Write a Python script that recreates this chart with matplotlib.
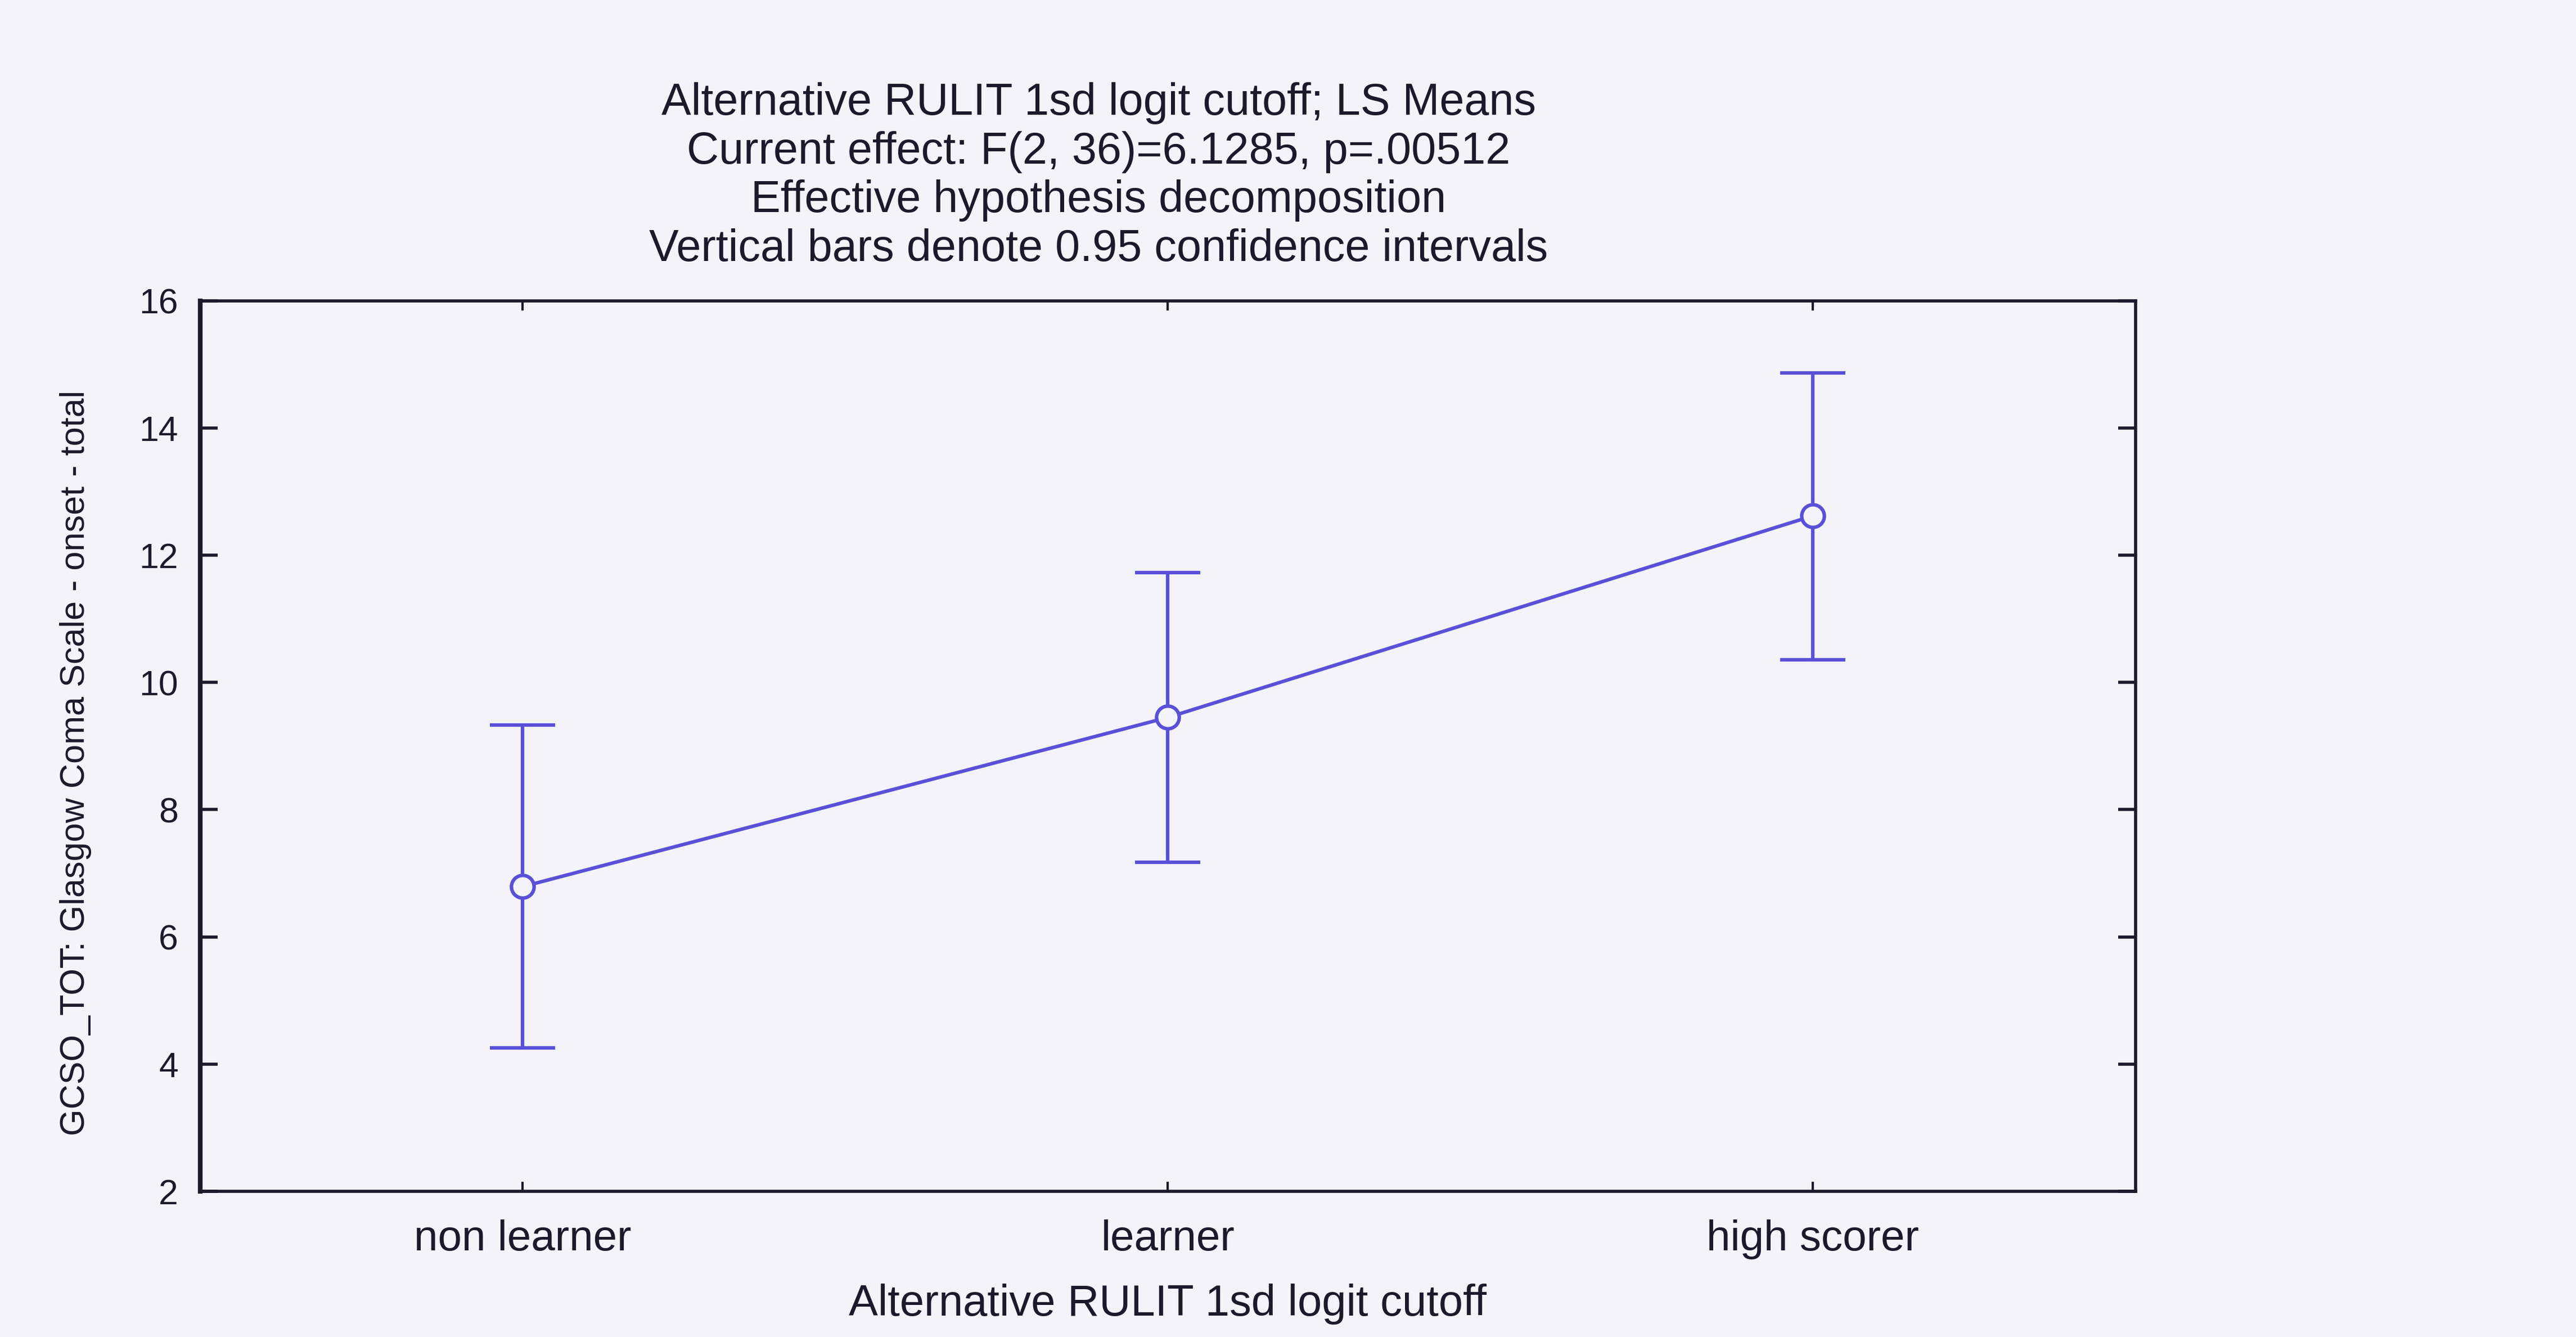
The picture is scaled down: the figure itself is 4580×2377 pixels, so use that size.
import matplotlib
matplotlib.use("Agg")
import matplotlib.pyplot as plt
import numpy as np

# LS means with 0.95 confidence limits per group
groups = ["non learner", "learner", "high scorer"]
means = [6.79, 9.45, 12.62]
ci_low = [4.25, 7.17, 10.36]
ci_high = [9.33, 11.73, 14.87]
y_ticks = [2, 4, 6, 8, 10, 12, 14, 16]

title_lines = [
    "Alternative RULIT 1sd logit cutoff; LS Means",
    "Current effect: F(2, 36)=6.1285, p=.00512",
    "Effective hypothesis decomposition",
    "Vertical bars denote 0.95 confidence intervals",
]
x_label = "Alternative RULIT 1sd logit cutoff"
y_label = "GCSO_TOT: Glasgow Coma Scale - onset - total"

bg = "#f3f3f9"
ink = "#1c1a2a"
line_col = "#5a50d8"

plt.rcParams["font.family"] = ["Liberation Sans", "DejaVu Sans"]

fig = plt.figure(figsize=(45.8, 23.77), dpi=100, facecolor=bg)
ax = fig.add_axes([0.0777, 0.109, 0.7513, 0.666], facecolor=bg)

x = np.arange(len(groups))
m = np.array(means)
yerr = np.vstack([m - np.array(ci_low), np.array(ci_high) - m])

ax.errorbar(x, m, yerr=yerr, color=line_col, lw=4.5, elinewidth=4.5,
            capsize=42, capthick=4.5, marker="o", ms=29, mfc=bg,
            mec=line_col, mew=4.5, zorder=3)

ax.set_xlim(-0.5, 2.5)
ax.set_ylim(2, 16)
ax.set_yticks(y_ticks)
ax.set_xticks(x)
ax.set_xticklabels(groups)

for s in ax.spines.values():
    s.set_color(ink)
    s.set_linewidth(4)
ax.spines["left"].set_linewidth(6)

ax.tick_params(axis="y", which="both", direction="in", length=22, width=4,
               left=True, right=True, labelsize=45, colors=ink, pad=28)
ax.tick_params(axis="x", which="both", direction="in", length=12, width=3,
               top=True, bottom=True, labelsize=55, colors=ink, pad=36)

ax.set_xlabel(x_label, fontsize=56, color=ink, labelpad=31)
ax.set_ylabel(y_label, fontsize=44, color=ink)
ax.yaxis.set_label_coords(-0.056, 0.481)

fig.text(0.4265, 0.9385, "\n".join(title_lines), ha="center", va="top",
         fontsize=57, color=ink, linespacing=1.2)

fig.savefig("out.png", dpi=100, facecolor=bg)
